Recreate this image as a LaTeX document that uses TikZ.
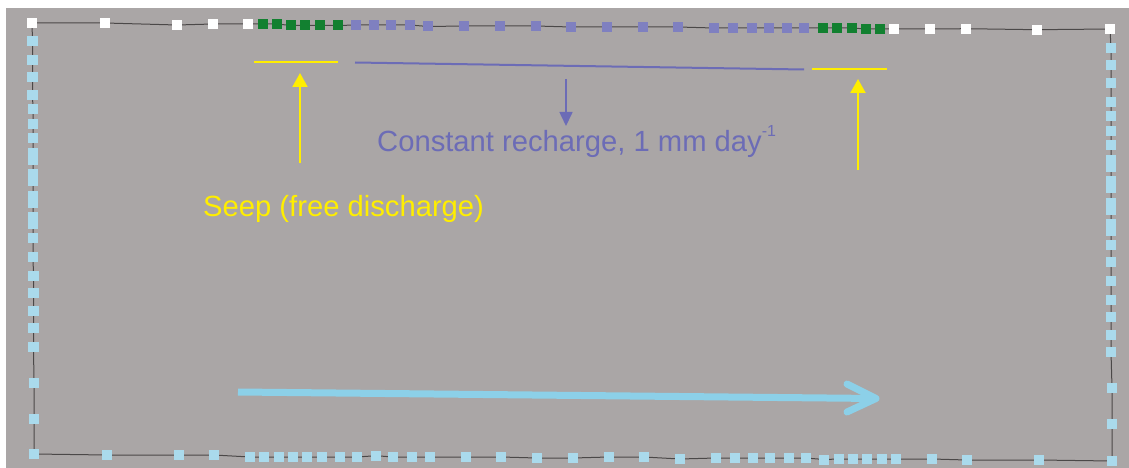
\documentclass[tikz,border=0pt]{standalone}
\usepackage{fontspec}
\setmainfont{Liberation Sans}
\usetikzlibrary{arrows.meta}
\definecolor{bggray}{RGB}{170,166,166}
\definecolor{bndline}{RGB}{75,72,72}
\definecolor{sqgreen}{RGB}{18,128,48}
\definecolor{sqpurple}{RGB}{127,128,192}
\definecolor{sqblue}{RGB}{170,218,236}
\definecolor{arrblue}{RGB}{140,208,232}
\definecolor{rechpurple}{RGB}{108,108,182}
\definecolor{seepyellow}{RGB}{255,238,0}
\tikzset{
  sqbase/.style={draw=none,inner sep=0pt,outer sep=0pt,minimum width=10.5pt,minimum height=10pt},
  sqW/.style={sqbase,fill=white},
  sqG/.style={sqbase,fill=sqgreen},
  sqP/.style={sqbase,fill=sqpurple},
  sqB/.style={sqbase,fill=sqblue},
  sqT/.style={sqbase,fill=sqblue,minimum height=17pt},
  bound/.style={draw=bndline,line width=1pt},
  seepline/.style={draw=seepyellow,line width=2pt},
  seeparrow/.style={draw=seepyellow,line width=2pt,-{Triangle[width=15pt,length=14pt]}},
  rechline/.style={draw=rechpurple,line width=2pt},
  recharrow/.style={draw=rechpurple,line width=1.6pt,-{Triangle[width=13pt,length=14pt]}},
  flowarrow/.style={draw=arrblue,line width=7pt},
  flowhead/.style={draw=arrblue,line width=7pt,line cap=round,line join=round},
  lbl/.style={inner sep=0pt,anchor=base west,font=\fontsize{29.2}{31}\selectfont}
}
\def\pts{32/23/W,105/23/W,177/25/W,213/24/W,248/24/W,
263/24/G,277/24/G,291/25.5/G,305/25.5/G,320/25.5/G,338/25.5/G,
356/25/P,374/25/P,391/25/P,410/25/P,428/26.5/P,464/26/P,500/26/P,536/26/P,571/27/P,607/27/P,643/27/P,678/27/P,714/28/P,733/28/P,752/28/P,769/28/P,787/28/P,804/28/P,
823/28/G,837/28/G,852/28/G,866/29/G,880/29/G,
894/29/W,930/29/W,966/28.7/W,1037/29.7/W,1110/29/W,
1111/48/B,1111/65/B,1111/83/B,1111/102/B,1111/116/B,1111/131/B,1111/145/B,1111/163/T,1111/184/T,1111/206/T,1111/227/T,1111/245/B,1111/262/B,1111/281/B,1111/300/B,1111/317/B,1111/335/B,1111/352/B,1112/388/B,1112/424/B,1112/461/B,
1039/460/B,967/460/B,932/459/B,896/459/B,882/459/B,867/459/B,853/459/B,839/459/B,824/459.5/B,806/458/B,789/458/B,770/458/B,753/458/B,735/458/B,716/458/B,680/459/B,644/457/B,609/457/B,573/458/B,537/458/B,501/457/B,466/457/B,430/457/B,412/457/B,393/457/B,376/455.7/B,357/457/B,340/457/B,322/457/B,307/457/B,293/457/B,279/457/B,264/457/B,250/457/B,214/455/B,179/455/B,107/455/B,34/454/B,
34/419/B,34/383/B,33.5/347/B,33.5/328/B,33.5/311/B,33.5/293/B,33.5/276/B,33/257/B,33/238/B,33/220/T,33/199/T,33/177/T,33/156/T,33/138/B,33/124/B,33/109/B,32.5/95/B,32.5/77/B,32.5/60/B,32.5/41/B}
\begin{document}
\begin{tikzpicture}[x=1pt,y=-1pt]
\useasboundingbox (0,0) rectangle (1129,468);
\fill[white] (0,0) rectangle (1129,468);
\fill[bggray] (6,8) rectangle (1129,468);
% boundary points
\foreach \x/\y/\c [count=\i] in \pts {
  \coordinate (b\i) at (\x,\y);
  \xdef\nb{\i}
}
\draw[bound] (b1) \foreach \i in {2,...,\nb} {-- (b\i)} -- cycle;
\foreach \x/\y/\c [count=\i] in \pts {
  \node[sq\c] (s\i) at (b\i) {};
}
% recharge and seep lines
\coordinate (sl1) at (254,62.5); \coordinate (sl2) at (338,62.5);
\coordinate (sr1) at (812,69.5); \coordinate (sr2) at (887,69.5);
\coordinate (rl1) at (355,62.5); \coordinate (rl2) at (804,69.5);
\draw[seepline] (sl1) -- (sl2);
\draw[seepline] (sr1) -- (sr2);
\draw[rechline] (rl1) -- (rl2);
% arrows
\coordinate (sa1) at (300,163); \coordinate (sa2) at (300,73);
\coordinate (sb1) at (858,170); \coordinate (sb2) at (858,79);
\coordinate (ra1) at (566,79);  \coordinate (ra2) at (566,126);
\draw[seeparrow] (sa1) -- (sa2);
\draw[seeparrow] (sb1) -- (sb2);
\draw[recharrow] (ra1) -- (ra2);
% labels
\node[lbl,text=rechpurple] (rech) at (377,151) {Constant recharge, 1 mm day\raisebox{0.5em}{\fontsize{16}{16}\selectfont -1}};
\node[lbl,text=seepyellow] (seep) at (203,216) {Seep (free discharge)};
% flow arrow
\coordinate (fa1) at (238,392); \coordinate (fa2) at (876,398.5);
\coordinate (fh1) at (847,384); \coordinate (fh2) at (847,412);
\draw[flowarrow] (fa1) -- (fa2);
\draw[flowhead] (fh1) -- (fa2) -- (fh2);
\end{tikzpicture}
\end{document}
